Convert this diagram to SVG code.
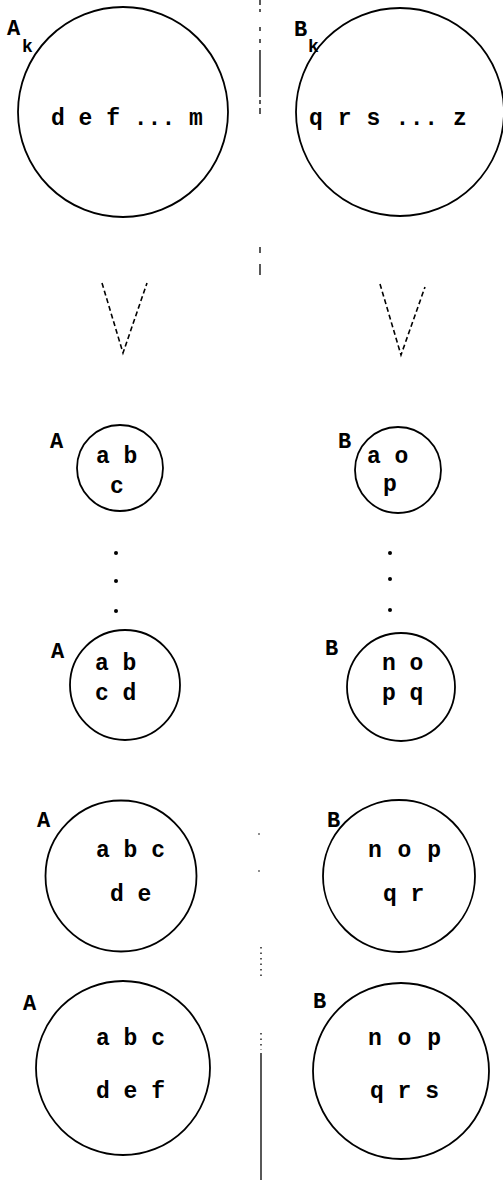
<svg xmlns="http://www.w3.org/2000/svg" width="503" height="1180" viewBox="0 0 503 1180">
<style>
.c{fill:none;stroke:#000;stroke-width:1.8}
.t{font-family:"Liberation Mono","Courier New",monospace;font-size:23px;font-weight:bold;fill:#000}
.l{font-family:"Liberation Mono","Courier New",monospace;font-size:22px;font-weight:bold;fill:#000}
.s{font-family:"Liberation Mono","Courier New",monospace;font-size:18px;font-weight:bold;fill:#000}
.v{fill:none;stroke:#000;stroke-width:1.6;stroke-dasharray:5 3}
.d{fill:#000}
</style>
<rect width="503" height="1180" fill="#fff"/>
<g id="divider" stroke="#000" stroke-width="1.3" fill="none">
<path d="M260 0V5M260 9V12M260 27V31M260 39V43M260 50V97M260 100V104M260 108V114M260 247V253M260 264V275M261 1053V1180"/>
<path d="M261 947V977M261 1033V1050" stroke-dasharray="1.5 4"/>
<circle cx="259" cy="834" r="0.8" fill="#000" stroke="none"/>
<circle cx="259" cy="871" r="0.8" fill="#000" stroke="none"/>
</g>
<g id="Ak">
<circle class="c" cx="123" cy="112" r="105"/>
<text class="l" x="7" y="35">A</text><text class="s" x="22" y="52">k</text>
<text class="t" x="51" y="125">d e f ... m</text>
</g>
<g id="Bk">
<circle class="c" cx="400" cy="112" r="104"/>
<text class="l" x="294" y="36">B</text><text class="s" x="308" y="52">k</text>
<text class="t" x="309" y="125" letter-spacing="0.6">q r s ... z</text>
</g>
<g id="connectors">
<path class="v" d="M102 283L123 353L147 283"/>
<path class="v" d="M380 284L401 355L425 287"/>
<circle class="d" cx="116" cy="553" r="2"/><circle class="d" cx="116" cy="581" r="2"/><circle class="d" cx="116" cy="611" r="2"/>
<circle class="d" cx="390" cy="553" r="2"/><circle class="d" cx="390" cy="579" r="2"/><circle class="d" cx="390" cy="610" r="2"/>
</g>
<g id="A1">
<circle class="c" cx="120" cy="468" r="43" stroke-width="2.2"/>
<text class="l" x="50" y="448">A</text>
<text class="t" x="96" y="463">a b</text>
<text class="t" x="110" y="493">c</text>
</g>
<g id="B1">
<circle class="c" cx="398" cy="470" r="43" stroke-width="2.2"/>
<text class="l" x="338" y="448">B</text>
<text class="t" x="367" y="463">a o</text>
<text class="t" x="383" y="491">p</text>
</g>
<g id="A2">
<circle class="c" cx="125" cy="685" r="55" stroke-width="2"/>
<text class="l" x="51" y="658">A</text>
<text class="t" x="95" y="670">a b</text>
<text class="t" x="95" y="700">c d</text>
</g>
<g id="B2">
<circle class="c" cx="401" cy="687" r="54" stroke-width="2"/>
<text class="l" x="325" y="655">B</text>
<text class="t" x="382" y="670">n o</text>
<text class="t" x="382" y="700">p q</text>
</g>
<g id="A3">
<circle class="c" cx="121" cy="876" r="75.5" stroke-width="2"/>
<text class="l" x="37" y="827">A</text>
<text class="t" x="96" y="857">a b c</text>
<text class="t" x="110" y="901">d e</text>
</g>
<g id="B3">
<circle class="c" cx="399" cy="876" r="76" stroke-width="2"/>
<text class="l" x="327" y="827">B</text>
<text class="t" x="368" y="857" letter-spacing="1">n o p</text>
<text class="t" x="383" y="901">q r</text>
</g>
<g id="A4">
<circle class="c" cx="123" cy="1068" r="87"/>
<text class="l" x="23" y="1010">A</text>
<text class="t" x="96" y="1045">a b c</text>
<text class="t" x="96" y="1098">d e f</text>
</g>
<g id="B4">
<circle class="c" cx="401" cy="1071" r="88"/>
<text class="l" x="313" y="1008">B</text>
<text class="t" x="368" y="1045" letter-spacing="1">n o p</text>
<text class="t" x="370" y="1098">q r s</text>
</g>
</svg>
